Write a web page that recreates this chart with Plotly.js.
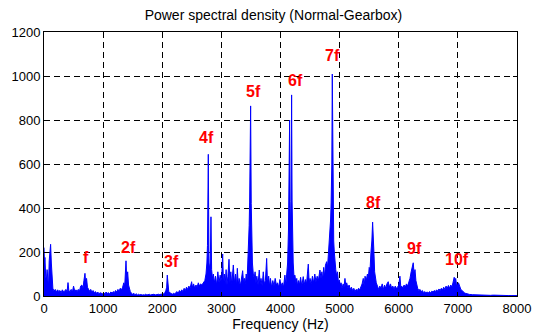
<!DOCTYPE html>
<html>
<head>
<meta charset="utf-8">
<script src="https://cdn.plot.ly/plotly-3.0.1.min.js"></script>
<style>html,body{margin:0;padding:0;background:#fff}#chart{width:533px;height:335px}</style>
</head>
<body>
<div id="chart"></div>
<script>
// Frequency (Hz) and PSD values
const freq = [
0,8,16,28,40,52,64,76,88,100,112,124,136,150,170,190,210,230,250,270,290,310,330,350,370,390,406,420,440,460,480,500,520,540,560,580,600,620,640,660,675,693,705,720,735,750,770,
790,810,830,850,870,890,910,930,950,970,990,1010,1030,1050,1070,1090,1110,1130,1150,1170,1190,1210,1230,1250,1270,1290,1310,1330,1350,1365,1375,1387,1400,1415,1430,1445,1460,
1480,1500,1520,1540,1560,1580,1600,1620,1640,1660,1680,1700,1720,1740,1760,1780,1800,1820,1840,1860,1880,1900,1920,1940,1960,1980,2000,2020,2040,2060,2075,2085,2095,2110,2130,2150,
2170,2190,2210,2230,2250,2270,2290,2310,2330,2350,2370,2390,2410,2430,2450,2470,2497,2510,2530,2550,2570,2590,2610,2630,2650,2670,2690,2706,2720,2740,2755,2765,2779,2790,2805,2815,2824,2835,2850,2865,2880,
2900,2920,2940,2960,2980,3000,3022,3035,3050,3065,3080,3095,3110,3129,3145,3160,3175,3190,3202,3220,3240,3255,3270,3285,3300,3320,3340,3360,3375,3390,3405,3420,3435,3450,3462,3470,3478,3486,3495,3505,3515,3525,3540,
3555,3570,3585,3600,3620,3641,3655,3670,3690,3709,3725,3745,3766,3780,3800,3815,3830,3850,3870,3890,3910,3930,3950,3970,3990,4010,4030,4050,4075,4090,4105,4120,4135,4147,4154,4162,4172,4180,4188,4196,4205,4215,4228,
4244,4260,4275,4290,4305,4320,4340,4360,4385,4400,4420,4440,4455,4470,4485,4500,4520,4540,4560,4580,4600,4620,4640,4667,4685,4700,4715,4730,4745,4760,4780,4795,4810,4825,4838,4848,4856,4862,4868,4876,4884,4892,4900,4910,4920,4935,4950,
4965,4980,4994,5010,5025,5040,5060,5075,5090,5105,5120,5140,5160,5180,5200,5220,5240,5260,5280,5300,5320,5340,5360,5380,5400,5415,5430,5450,5470,5485,5500,5515,5530,5545,5558,5570,5580,5592,5605,5620,
5640,5660,5680,5700,5720,5740,5760,5780,5800,5822,5840,5860,5880,5900,5920,5940,5960,5980,6000,6020,6035,6050,6070,6090,6110,6130,6150,6170,6190,6210,6228,6245,6260,6275,6290,6305,6320,6340,
6360,6380,6400,6420,6440,6460,6480,6500,6520,6540,6560,6580,6600,6620,6640,6660,6680,6700,6720,6740,6760,6780,6800,6820,6840,6860,6880,6900,6920,6938,6950,6963,6975,6990,7010,7030,7050,7070,7090,7110,7130,7150,7170,7200,
7250,7300,7350,7400,7450,7500,7550,7600,7650,7700,7750,7800,7850,7900,7950,8000
];
const psd = [
220,150,175,90,70,120,60,40,160,200,235,150,60,35,22,30,18,28,20,25,15,28,20,22,30,18,61,25,20,30,18,45,22,28,20,30,22,45,50,35,70,103,60,80,40,30,22,
30,18,25,15,20,12,18,10,15,12,10,15,10,18,12,15,10,18,14,20,15,25,18,30,22,35,28,40,60,45,90,160,70,110,50,30,20,
12,8,12,6,10,5,8,5,7,4,6,5,8,5,6,8,5,7,6,8,5,7,6,8,6,9,7,10,12,25,40,95,35,20,15,10,
8,12,10,15,20,12,25,18,28,20,35,25,40,30,45,35,65,40,55,35,50,40,60,45,55,50,60,62,70,100,150,230,644,150,120,200,360,120,80,100,60,
90,50,110,60,95,55,191,60,100,55,120,50,90,167,60,110,50,90,141,60,100,45,126,50,80,45,90,115,60,80,55,100,70,150,250,320,427,545,864,420,250,150,100,
80,110,60,90,50,118,55,80,45,110,55,70,171,60,90,45,80,40,70,45,80,50,60,40,75,45,60,40,95,50,90,150,300,500,800,430,300,440,914,432,250,150,90,
95,60,80,45,70,50,85,45,88,50,75,55,90,145,60,80,55,90,60,100,65,90,70,118,80,110,75,130,90,140,156,130,190,250,300,350,423,482,600,1009,520,360,250,200,150,120,90,
110,60,73,50,60,35,55,40,80,45,60,35,50,30,40,25,35,20,30,25,35,28,40,55,80,45,90,70,100,80,130,120,200,250,336,280,200,110,80,60,
45,30,45,35,55,30,50,35,55,65,40,55,35,45,30,45,35,40,50,90,40,45,35,50,40,55,45,60,80,110,133,151,100,120,70,50,35,25,
30,20,25,15,20,15,18,14,20,15,22,18,25,20,28,22,32,25,35,28,40,30,45,35,48,35,50,40,70,85,65,80,55,45,60,40,30,25,18,15,12,10,8,7,
6,5,6,4,5,4,3,4,3,3,2,3,2,2,2,2
];
// Harmonic labels and their positions
const labelText = ['f','2f','3f','4f','5f','6f','7f','8f','9f','10f'];
const labelFreq = [710,1426,2148,2750,3540,4250,4880,5569,6274,6979];
const labelPsd  = [177,221,156,721,929,979,1091,423,217,164];
const xTicks = [0,1000,2000,3000,4000,5000,6000,7000,8000];
const yTicks = [0,200,400,600,800,1000,1200];

const trace = {
  x: freq, y: psd, type: 'scatter', mode: 'lines',
  line: {color: '#0000ff', width: 1},
  fill: 'tozeroy', fillcolor: '#0000ff',
  hoverinfo: 'skip'
};

const annotations = labelText.map((t, i) => ({
  x: labelFreq[i], y: labelPsd[i], xref: 'x', yref: 'y',
  text: t, showarrow: false,
  font: {family: 'Liberation Sans, Arial, sans-serif', size: 16, color: '#ff0000', weight: 'bold'}
}));

const axisCommon = {
  showline: true, linecolor: '#000', linewidth: 1, mirror: 'ticks',
  ticks: 'inside', ticklen: 4, tickcolor: '#000',
  showgrid: true, gridcolor: '#000', gridwidth: 1, griddash: '6px,4px',
  zeroline: false,
  tickfont: {family: 'Liberation Sans, Arial, sans-serif', size: 13, color: '#000'}
};

const layout = {
  width: 533, height: 335,
  margin: {l: 44, r: 16, t: 32, b: 39},
  paper_bgcolor: '#fff', plot_bgcolor: '#fff',
  showlegend: false,
  title: {text: 'Power spectral density (Normal-Gearbox)', xref: 'paper', x: 0.485, xanchor: 'center',
          yref: 'container', y: 0.955, yanchor: 'middle',
          font: {family: 'Liberation Sans, Arial, sans-serif', size: 14, color: '#000'}},
  xaxis: Object.assign({}, axisCommon, {
    range: [0, 8000], tickvals: xTicks, ticktext: xTicks.map(String),
    title: {text: 'Frequency (Hz)', standoff: 2, font: {family: 'Liberation Sans, Arial, sans-serif', size: 14, color: '#000'}}
  }),
  yaxis: Object.assign({}, axisCommon, {
    range: [0, 1200], tickvals: yTicks, ticktext: yTicks.map(String)
  }),
  annotations: annotations
};

Plotly.newPlot('chart', [trace], layout, {staticPlot: true, displayModeBar: false});
</script>
</body>
</html>
